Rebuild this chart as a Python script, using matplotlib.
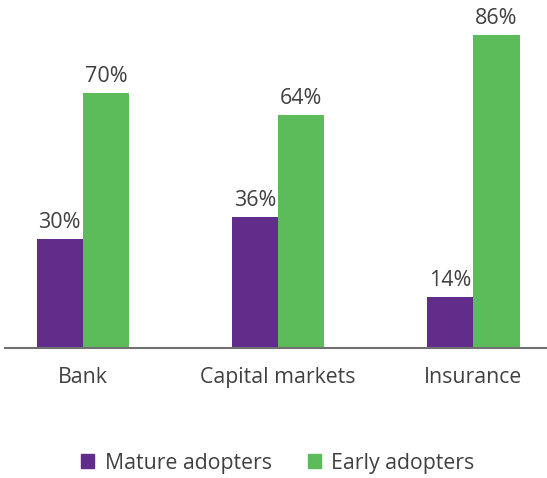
import matplotlib.pyplot as plt
from matplotlib.patches import Patch
import numpy as np

categories = ['Bank', 'Capital markets', 'Insurance']
mature = [30, 36, 14]
early = [70, 64, 86]
series_names = ['Mature adopters', 'Early adopters']

purple = '#622D8A'
green = '#5CBC5A'
text_col = '#404040'

plt.rcParams['font.family'] = ['Open Sans', 'DejaVu Sans']

fig = plt.figure(figsize=(5.47, 4.78), dpi=100)
# axes: x from 5px to 547px, baseline at 348px from top
ax = fig.add_axes([5 / 547, 130 / 478, 542 / 547, 348 / 478])

x = np.arange(len(categories))
w = 0.238
b1 = ax.bar(x - w / 2, mature, w, color=purple)
b2 = ax.bar(x + w / 2, early, w, color=green)

for bars, vals in ((b1, mature), (b2, early)):
    for r, v in zip(bars, vals):
        ax.text(r.get_x() + r.get_width() / 2, v + 1.6, f'{v}%',
                ha='center', va='bottom', fontsize=15.5, color=text_col)

ax.set_xlim(-0.4, 2.379)
ax.set_ylim(0, 95.6)
ax.set_yticks([])
ax.set_xticks(x)
ax.set_xticklabels(categories, fontsize=15.3, color=text_col)
ax.tick_params(axis='x', length=0, pad=14)
for s in ['top', 'right', 'left']:
    ax.spines[s].set_visible(False)
ax.spines['bottom'].set_color('#707070')
ax.spines['bottom'].set_linewidth(1.5)

handles = [Patch(color=purple), Patch(color=green)]
fig.legend(handles, series_names, loc='center', bbox_to_anchor=(0.508, 1 - 463 / 478),
           ncol=2, frameon=False, fontsize=15.3, labelcolor=text_col,
           handlelength=0.6, handleheight=0.6, handletextpad=0.5, columnspacing=1.7)

fig.savefig('out.png', dpi=100)
